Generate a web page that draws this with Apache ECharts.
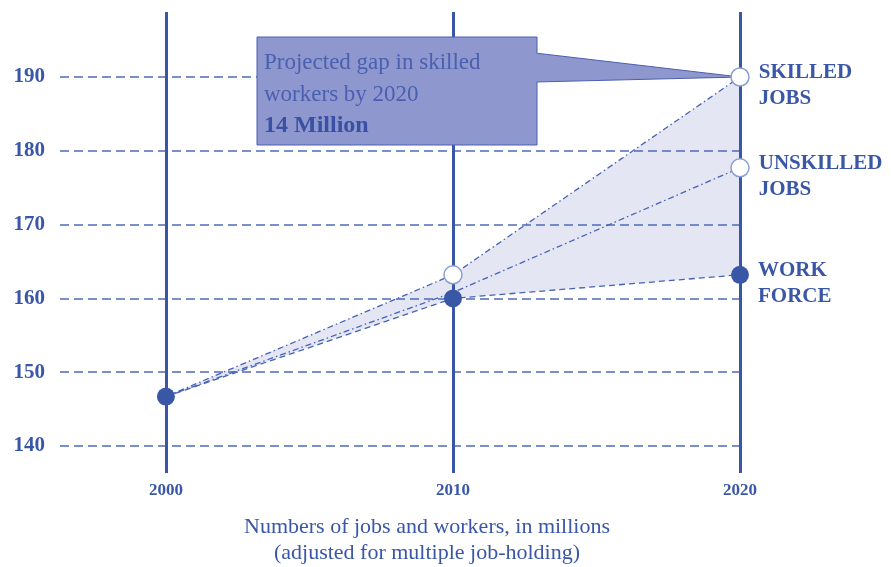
<!DOCTYPE html>
<html>
<head>
<meta charset="utf-8">
<script src="https://cdn.jsdelivr.net/npm/echarts@6/dist/echarts.min.js"></script>
<style>
html,body{margin:0;padding:0;background:#fff;}
#chart{width:891px;height:567px;}
</style>
</head>
<body>
<div id="chart"></div>
<script>
// ---- data ----
const years = [2000, 2010, 2020];
const skilledJobs = [146.7, 163.2, 190.0];
const unskilledJobs = [146.7, 160.8, 177.7];
const workForce = [146.7, 160.0, 163.2];
const yTicks = [140, 150, 160, 170, 180, 190];
const xTicks = [2000, 2010, 2020];
const seriesLabels = ['SKILLED\nJOBS', 'UNSKILLED\nJOBS', 'WORK\nFORCE'];
const calloutLines = ['Projected gap in skilled', 'workers by 2020', '14 Million'];
const captionLines = ['Numbers of jobs and workers, in millions', '(adjusted for multiple job-holding)'];

// ---- styles ----
const BLUE = '#3a57a7';
const SERIF = '"Liberation Serif", "DejaVu Serif", serif';
const openItem = { color: '#ffffff', borderColor: '#8a9fd2', borderWidth: 1.5, opacity: 1 };
const filledItem = { color: BLUE, borderWidth: 0, opacity: 1 };

function endLabel(text) {
  return {
    show: true, position: 'right', distance: 9, offset: [0, 9],
    formatter: text, color: BLUE, fontFamily: SERIF, fontWeight: 'bold',
    fontSize: 21, lineHeight: 26, align: 'left'
  };
}

function buildData(values, kinds, labelText) {
  return years.map((yr, i) => {
    const d = { value: [yr, values[i]] };
    if (kinds[i] === 'none') { d.symbol = 'none'; }
    else { d.symbol = 'circle'; d.itemStyle = kinds[i] === 'open' ? openItem : filledItem; }
    if (i === years.length - 1) d.label = endLabel(labelText);
    return d;
  });
}

const chart = echarts.init(document.getElementById('chart'), null, { renderer: 'canvas' });

const option = {
  animation: false,
  backgroundColor: '#ffffff',
  grid: { left: 60, right: 151, top: 12, bottom: 94, containLabel: false },
  xAxis: {
    type: 'value', min: 1996.31, max: 2020,
    axisLine: { show: false }, axisTick: { show: false }, splitLine: { show: false },
    axisLabel: {
      customValues: xTicks, margin: 9, color: BLUE, fontFamily: SERIF,
      fontWeight: 'bold', fontSize: 17, formatter: v => String(v)
    }
  },
  yAxis: {
    type: 'value', min: 136.34, max: 198.81,
    axisLine: { show: false }, axisTick: { show: false }, splitLine: { show: false },
    axisLabel: {
      customValues: yTicks, margin: 15, color: BLUE, fontFamily: SERIF,
      fontWeight: 'bold', fontSize: 21, formatter: v => String(v)
    }
  },
  graphic: captionLines.map((t, i) => ({
    type: 'text', x: 427, y: 527 + i * 26,
    style: { text: t, fill: BLUE, font: '22px ' + SERIF, align: 'center', verticalAlign: 'middle' }
  })),
  series: [
    { // horizontal dashed grid lines
      type: 'line', z: 1, silent: true, data: [], showSymbol: false,
      markLine: {
        silent: true, symbol: 'none', label: { show: false },
        lineStyle: { color: '#4f6bb8', width: 1.5, type: [9, 5] },
        emphasis: { disabled: true },
        data: yTicks.map(v => ({ yAxis: v }))
      }
    },
    { // shaded gap area
      type: 'custom', z: 2, silent: true,
      data: [[years[0], workForce[0]]],
      renderItem: (params, api) => {
        const pts = [];
        for (let i = 0; i < years.length; i++) pts.push(api.coord([years[i], skilledJobs[i]]));
        for (let i = years.length - 1; i >= 0; i--) pts.push(api.coord([years[i], workForce[i]]));
        return { type: 'polygon', shape: { points: pts }, style: { fill: '#e4e6f4' } };
      }
    },
    { // vertical year lines
      type: 'line', z: 3, silent: true, data: [], showSymbol: false,
      markLine: {
        silent: true, symbol: 'none', label: { show: false },
        lineStyle: { color: BLUE, width: 3, type: 'solid' },
        emphasis: { disabled: true },
        data: xTicks.map(v => ({ xAxis: v }))
      }
    },
    { // callout box
      type: 'custom', z: 6, silent: true,
      data: [[years[2], skilledJobs[2]]],
      renderItem: (params, api) => {
        const tip = api.coord([years[2], skilledJobs[2]]);
        const bx0 = tip[0] - 483, bx1 = tip[0] - 203, by0 = tip[1] - 40, by1 = tip[1] + 68;
        const fill = '#8e98cf', stroke = '#4b5fae';
        return {
          type: 'group',
          children: [
            { type: 'polygon', shape: { points: [[bx1 - 2, tip[1] - 24], [tip[0], tip[1]], [bx1 - 2, tip[1] + 5]] },
              style: { fill: fill, stroke: stroke, lineWidth: 1 } },
            { type: 'rect', shape: { x: bx0, y: by0, width: bx1 - bx0, height: by1 - by0 },
              style: { fill: fill, stroke: stroke, lineWidth: 1 } },
            { type: 'rect', shape: { x: bx1 - 3, y: tip[1] - 23.5, width: 4, height: 28 },
              style: { fill: fill } },
            { type: 'text', x: bx0 + 7, y: by0 + 26,
              style: { text: calloutLines[0], fill: '#4b5fb0', font: '23px ' + SERIF, verticalAlign: 'middle' } },
            { type: 'text', x: bx0 + 7, y: by0 + 58,
              style: { text: calloutLines[1], fill: '#4b5fb0', font: '23px ' + SERIF, verticalAlign: 'middle' } },
            { type: 'text', x: bx0 + 7, y: by0 + 89,
              style: { text: calloutLines[2], fill: '#3a50a2', font: 'bold 24px ' + SERIF, verticalAlign: 'middle' } }
          ]
        };
      }
    },
    {
      name: 'Unskilled jobs', type: 'line', z: 7, silent: true,
      showSymbol: true, showAllSymbol: true, symbolSize: 18,
      lineStyle: { color: '#4663b3', width: 1.3, type: [6, 3, 1.5, 3] },
      data: buildData(unskilledJobs, ['none', 'none', 'open'], seriesLabels[1])
    },
    {
      name: 'Skilled jobs', type: 'line', z: 7, silent: true,
      showSymbol: true, showAllSymbol: true, symbolSize: 18,
      lineStyle: { color: '#4663b3', width: 1.3, type: [6, 3, 1.5, 3] },
      data: buildData(skilledJobs, ['none', 'open', 'open'], seriesLabels[0])
    },
    {
      name: 'Work force', type: 'line', z: 8, silent: true,
      showSymbol: true, showAllSymbol: true, symbolSize: 18,
      lineStyle: { color: '#4663b3', width: 1.3, type: [6, 4] },
      data: buildData(workForce, ['filled', 'filled', 'filled'], seriesLabels[2])
    }
  ]
};
chart.setOption(option);
</script>
</body>
</html>
